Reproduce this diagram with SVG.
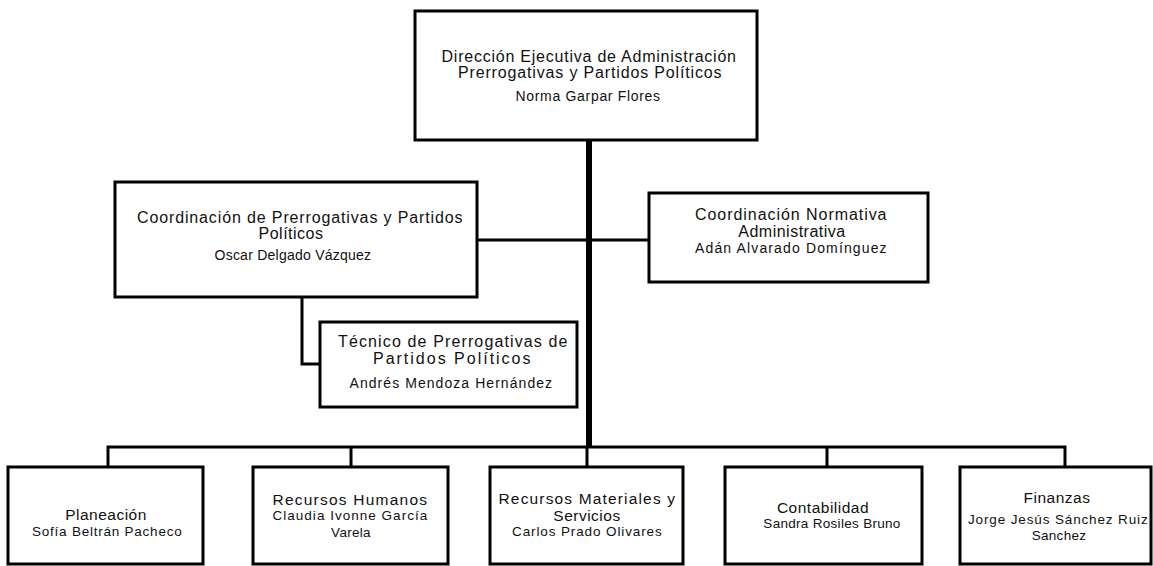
<svg xmlns="http://www.w3.org/2000/svg" width="1153" height="566" viewBox="0 0 1153 566">
<style>
.box{fill:#fff;stroke:#000;stroke-width:3}
.ln{fill:none;stroke:#000;stroke-width:3}
.trunk{fill:none;stroke:#000;stroke-width:6}
text{font-family:"Liberation Sans",Arial,sans-serif;fill:#111;text-anchor:middle}
.t{font-size:16px;letter-spacing:0.5px}
.n{font-size:14px;letter-spacing:0.4px}
.bt{font-size:15.5px;letter-spacing:0.5px}
.bn{font-size:13.5px;letter-spacing:0.3px}
</style>
<rect width="1153" height="566" fill="#fff"/>
<g id="connectors">
<path class="trunk" d="M589 140V447"/>
<path class="ln" d="M477 240H649"/>
<path class="ln" d="M302 297V364H320"/>
<path class="ln" d="M108 467V447H1065V467"/>
<path class="ln" d="M351 447V467M587 447V467M827 447V467"/>
</g>
<g id="direccion">
<rect class="box" x="415" y="11" width="342" height="129"/>
<text class="t" x="589" y="62" textLength="295" lengthAdjust="spacing">Dirección Ejecutiva de Administración</text>
<text class="t" x="590" y="78" textLength="264" lengthAdjust="spacing">Prerrogativas y Partidos Políticos</text>
<text class="n" x="588" y="101" textLength="145" lengthAdjust="spacing">Norma Garpar Flores</text>
</g>
<g id="coord-prerrogativas">
<rect class="box" x="115" y="182" width="362" height="115"/>
<text class="t" x="300" y="223" textLength="326" lengthAdjust="spacing">Coordinación de Prerrogativas y Partidos</text>
<text class="t" x="291" y="239">Políticos</text>
<text class="n" x="293" y="260" textLength="157" lengthAdjust="spacing">Oscar Delgado Vázquez</text>
</g>
<g id="coord-normativa">
<rect class="box" x="649" y="193" width="279" height="89"/>
<text class="t" x="791" y="220" textLength="192" lengthAdjust="spacing">Coordinación Normativa</text>
<text class="t" x="792" y="237">Administrativa</text>
<text class="n" x="791" y="253" textLength="192" lengthAdjust="spacing">Adán Alvarado Domínguez</text>
</g>
<g id="tecnico">
<rect class="box" x="320" y="322" width="257" height="85"/>
<text class="t" x="453" y="347" textLength="230" lengthAdjust="spacing">Técnico de Prerrogativas de</text>
<text class="t" x="452" y="364" textLength="158" lengthAdjust="spacing">Partidos Políticos</text>
<text class="n" x="451" y="388" textLength="203" lengthAdjust="spacing">Andrés Mendoza Hernández</text>
</g>
<g id="planeacion">
<rect class="box" x="8" y="467" width="195" height="97"/>
<text class="bt" x="106" y="520">Planeación</text>
<text class="bn" x="107" y="536" textLength="150" lengthAdjust="spacing">Sofía Beltrán Pacheco</text>
</g>
<g id="recursos-humanos">
<rect class="box" x="253" y="467" width="195" height="97"/>
<text class="bt" x="350" y="505" textLength="155" lengthAdjust="spacing">Recursos Humanos</text>
<text class="bn" x="350" y="520" textLength="155" lengthAdjust="spacing">Claudia Ivonne García</text>
<text class="bn" x="351" y="537">Varela</text>
</g>
<g id="recursos-materiales">
<rect class="box" x="490" y="467" width="193" height="97"/>
<text class="bt" x="587" y="504" textLength="177" lengthAdjust="spacing">Recursos Materiales y</text>
<text class="bt" x="587" y="521">Servicios</text>
<text class="bn" x="587" y="536" textLength="150" lengthAdjust="spacing">Carlos Prado Olivares</text>
</g>
<g id="contabilidad">
<rect class="box" x="725" y="467" width="197" height="97"/>
<text class="bt" x="823" y="513">Contabilidad</text>
<text class="bn" x="832" y="528">Sandra Rosiles Bruno</text>
</g>
<g id="finanzas">
<rect class="box" x="960" y="467" width="191" height="97"/>
<text class="bt" x="1057" y="503">Finanzas</text>
<text class="bn" x="1058" y="524" textLength="180" lengthAdjust="spacing">Jorge Jesús Sánchez Ruiz</text>
<text class="bn" x="1059" y="540">Sanchez</text>
</g>
</svg>
